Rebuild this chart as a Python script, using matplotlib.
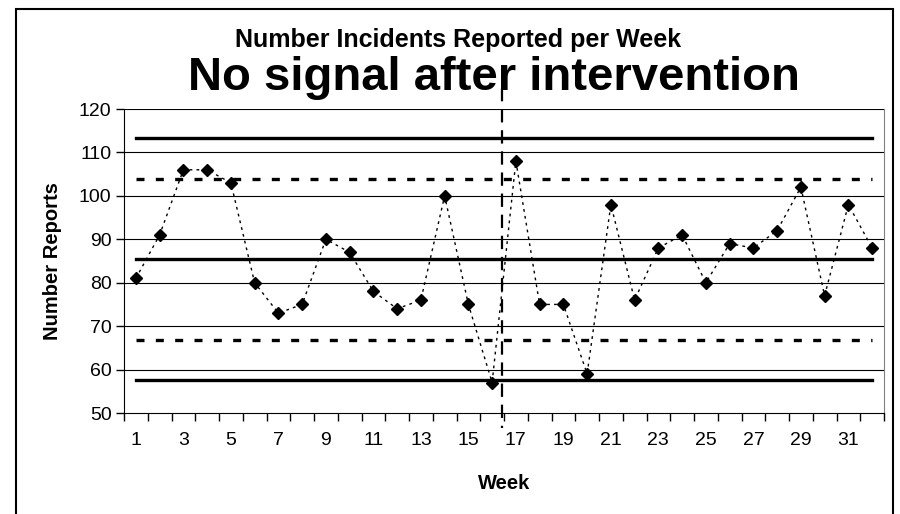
import numpy as np
import matplotlib
matplotlib.use('Agg')
import matplotlib.pyplot as plt
from matplotlib.patches import Rectangle

plt.rcParams['font.family'] = ['Liberation Sans', 'DejaVu Sans']

# weekly counts
weeks = list(range(1, 33))
reports = [81, 91, 106, 106, 103, 80, 73, 75, 90, 87, 78, 74, 76, 100, 75, 57,
           108, 75, 75, 59, 98, 76, 88, 91, 80, 89, 88, 92, 102, 77, 98, 88]

# control limits
centre = 85.4
ucl = 113.3
lcl = 57.6
upper_warn = 103.8
lower_warn = 66.9
intervention = 16.4

tick_weeks = list(range(1, 32, 2))
tick_labels = [str(w) for w in tick_weeks]

fig = plt.figure(figsize=(9, 5.14), dpi=100)
ax = fig.add_axes([124 / 900, 1 - 413 / 514, 760 / 900, 304 / 514])

# frame round the whole picture
fig.patches.append(Rectangle((16 / 900, -0.05), 877 / 900, 1.05 - 9 / 514,
                             transform=fig.transFigure, fill=False,
                             edgecolor='black', linewidth=1.5))

# gridlines
for v in range(60, 121, 10):
    ax.axhline(v, color='black', linewidth=0.8, zorder=1)

x0, x1 = weeks[0], weeks[-1]
ax.plot([x0, x1], [ucl, ucl], color='black', linewidth=2.4, zorder=2)
ax.plot([x0, x1], [centre, centre], color='black', linewidth=2.4, zorder=2)
ax.plot([x0, x1], [lcl, lcl], color='black', linewidth=2.4, zorder=2)
ax.plot([x0, x1], [upper_warn, upper_warn], color='black', linewidth=2.4,
        dashes=(2.4, 3.4), zorder=2)
ax.plot([x0, x1], [lower_warn, lower_warn], color='black', linewidth=2.4,
        dashes=(2.4, 3.4), zorder=2)

ax.plot(weeks, reports, color='black', linewidth=1.0, linestyle=(0, (2, 3)),
        marker='D', markersize=6.5, markerfacecolor='black',
        markeredgecolor='black', zorder=3)

# intervention line
ax.plot([intervention, intervention], [124.8, 46.5], color='black',
        linewidth=1.6, dashes=(6, 3.5), clip_on=False, zorder=4)

ax.set_xlim(0.5, 32.5)
ax.set_ylim(50, 120)
ax.set_yticks(range(50, 121, 10))
ax.set_xticks(tick_weeks)
ax.set_xticklabels(tick_labels)
ax.set_xticks(np.arange(0.5, 33, 1), minor=True)
ax.tick_params(axis='x', which='major', length=0, pad=14, labelsize=14)
ax.tick_params(axis='x', which='minor', length=6, width=1, direction='out')
ax.tick_params(axis='y', length=6, width=1, direction='out', pad=3, labelsize=14)

ax.spines['top'].set_visible(False)
ax.spines['right'].set_color('#808080')
ax.spines['left'].set_color('black')
ax.spines['bottom'].set_color('black')

ax.set_xlabel('Week', fontsize=14.5, fontweight='bold', labelpad=18)
ax.set_ylabel('Number Reports', fontsize=14.5, fontweight='bold', labelpad=12)

fig.text(458 / 900, 1 - 47 / 514, 'Number Incidents Reported per Week',
         ha='center', va='baseline', fontsize=18, fontweight='bold')
fig.text(494 / 900, 1 - 90 / 514, 'No signal after intervention',
         ha='center', va='baseline', fontsize=34, fontweight='bold')

fig.savefig('out.png', dpi=100)
